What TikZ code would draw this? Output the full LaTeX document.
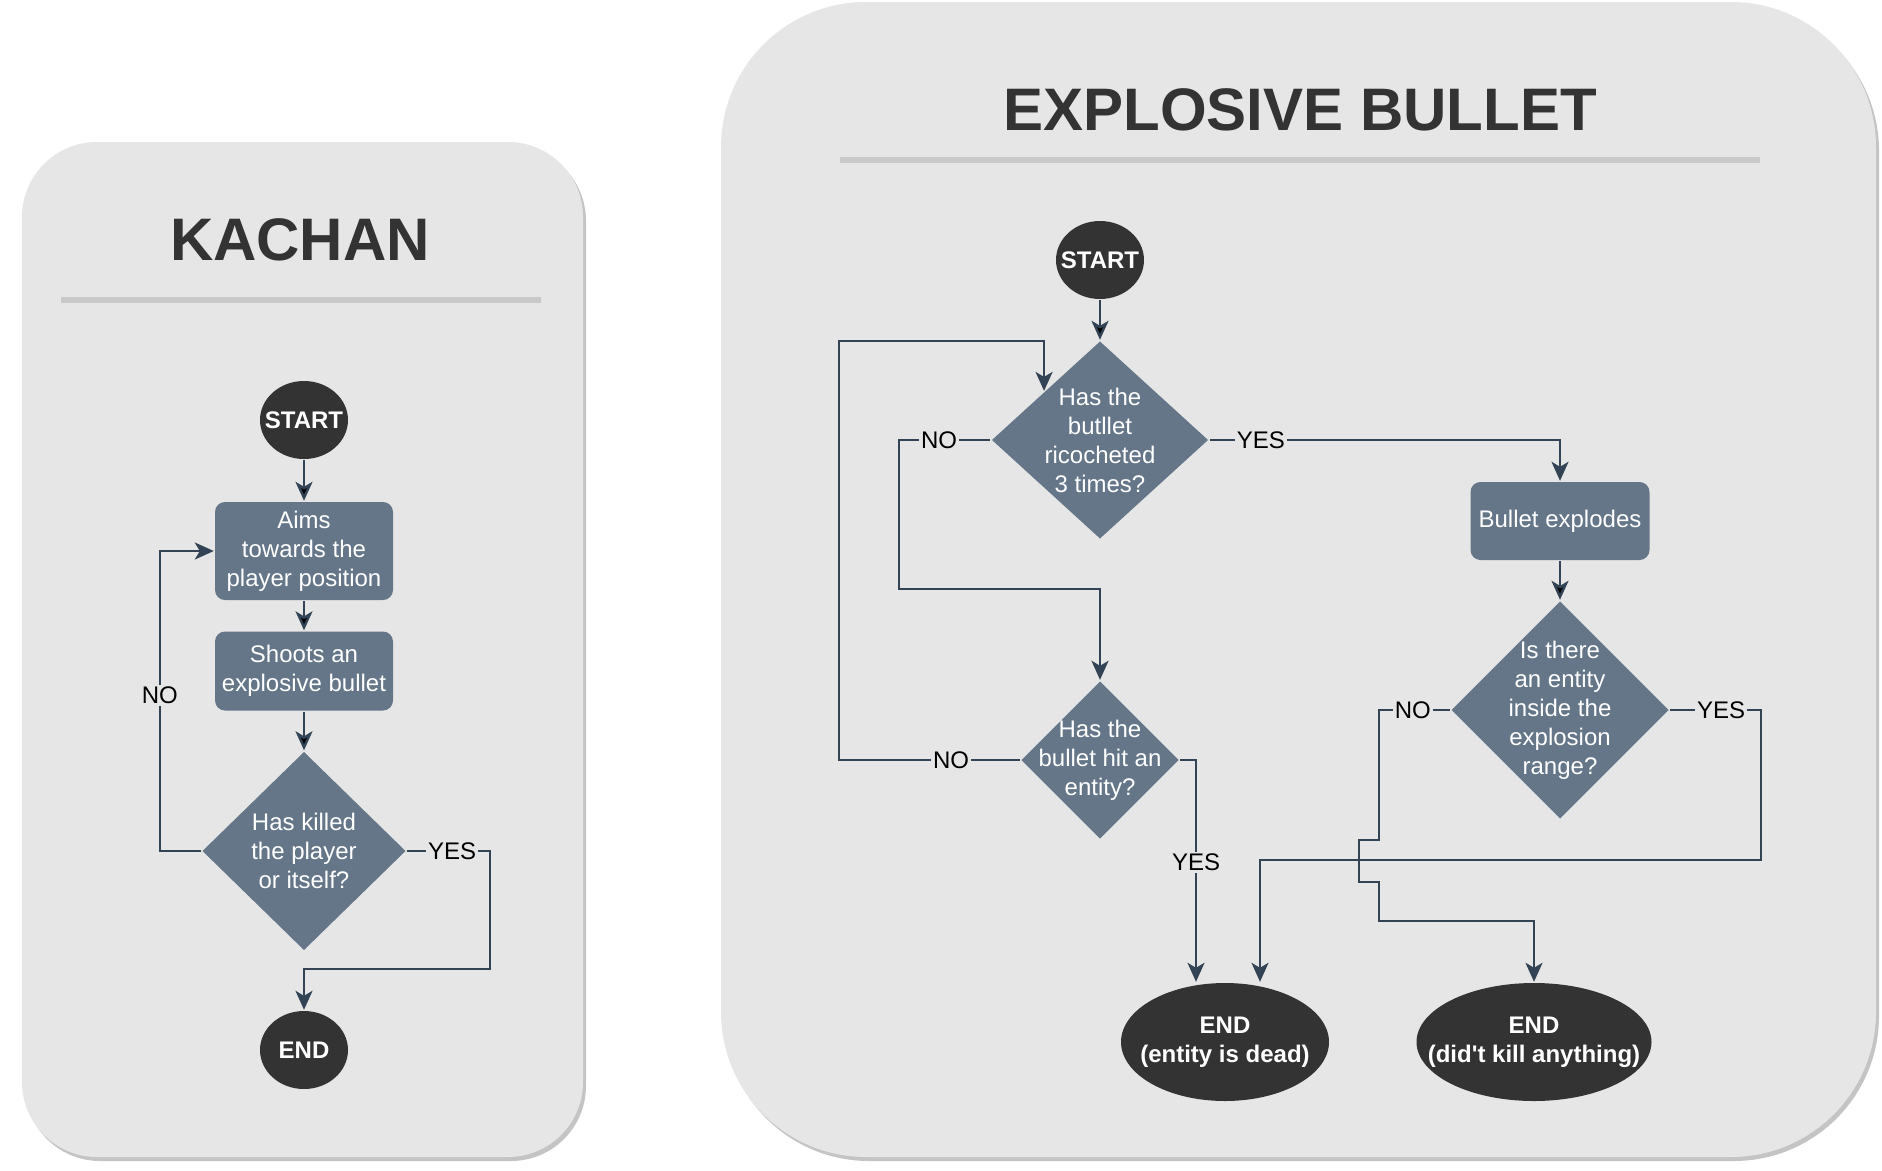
\documentclass[tikz,border=0pt]{standalone}
\usepackage{fontspec}
\setmainfont{Liberation Sans}
\usepackage{xcolor}
\usetikzlibrary{arrows.meta,calc,positioning,shapes.geometric}
\definecolor{panelbg}{HTML}{E6E6E6}
\definecolor{panelshade}{HTML}{C4C4C4}
\definecolor{rulegray}{HTML}{C9C9C9}
\definecolor{titlecol}{HTML}{333333}
\definecolor{slate}{HTML}{647687}
\definecolor{darkfill}{HTML}{333333}
\definecolor{linecol}{HTML}{314354}
\newcommand{\flowfont}{\fontsize{24}{29}\selectfont}

\begin{document}
\begin{tikzpicture}[x=1pt,y=-1pt,line width=2.4pt,
  flow/.style={draw=linecol,-{Stealth[length=19pt,width=17pt,inset=5pt]}},
  lbl/.style={fill=panelbg,inner sep=2pt,text=black,font=\flowfont},
  term/.style={ellipse,fill=darkfill,text=white,font=\flowfont\bfseries,inner sep=-30pt,align=center},
  proc/.style={rectangle,rounded corners=10pt,fill=slate,text=white,font=\flowfont,inner sep=4pt,align=center,minimum width=178pt},
  deci/.style={diamond,fill=slate,text=white,font=\flowfont,inner sep=-30pt,align=center},
  title/.style={font=\fontsize{60}{72}\selectfont\bfseries,text=titlecol}]
  \useasboundingbox (0,0) rectangle (1882,1170);

  % panels
  \fill[panelshade,rounded corners=75pt] (25,146) rectangle (586,1161);
  \fill[panelbg,rounded corners=75pt] (22,142) rectangle (583,1157);
  \fill[panelshade,rounded corners=145pt] (724,6) rectangle (1879,1161);
  \fill[panelbg,rounded corners=145pt] (721,2) rectangle (1876,1157);

  \node[title] (t1) at (300,240) {KACHAN};
  \node[title] (t2) at (1300,110) {EXPLOSIVE BULLET};
  \draw[rulegray,line width=6pt] (61,300) -- (541,300);
  \draw[rulegray,line width=6pt] (840,160) -- (1760,160);

  % kachan
  \node[term,minimum width=88pt,minimum height=78pt] (k1) at (304,420) {START};
  \node[proc,minimum height=98pt] (k2) [below of=k1,node distance=131pt] {Aims\\towards the\\player position};
  \node[proc,minimum height=79pt] (k3) [below of=k2,node distance=120pt] {Shoots an\\explosive bullet};
  \node[deci,minimum width=204pt,minimum height=199pt] (k4) [below of=k3,node distance=180pt] {Has killed\\the player\\or itself?};
  \node[term,minimum width=88pt,minimum height=78pt] (k5) [below of=k4,node distance=199pt] {END};

  \path[flow] (k1) edge (k2) (k2) edge (k3) (k3) edge (k4);
  \draw[flow] (k4.west) -- ++(-41,0) |- node[lbl,pos=0.26] {NO} (k2.west);
  \draw[flow] (k4.east) -- node[lbl,pos=0.54] {YES} ++(83,0) |- ($(k5.north)+(0,-41)$) -- (k5.north);

  % explosive bullet
  \node[term,minimum width=88pt,minimum height=78pt] (e1) at (1100,260) {START};
  \node[deci,minimum width=217pt,minimum height=198pt] (e2) [below of=e1,node distance=180pt] {Has the\\butllet\\ricocheted\\3 times?};
  \node[deci,minimum width=158pt,minimum height=158pt] (e3) [below of=e2,node distance=320pt] {Has the\\bullet hit an\\entity?};
  \node[proc,minimum width=179pt,minimum height=78pt] (e4) at (1560,521) {Bullet explodes};
  \node[deci,minimum width=218pt,minimum height=218pt] (e5) [below of=e4,node distance=189pt] {Is there\\an entity\\inside the\\explosion\\range?};
  \node[term,minimum width=208pt,minimum height=118pt] (e6) at (1225,1042) {END\\(entity is dead)};
  \node[term,minimum width=235pt,minimum height=118pt] (e7) [right of=e6,node distance=309pt] {END\\(did\textquotesingle t kill anything)};

  \coordinate (e2in) at ($(e2.west)!0.49!(e2.north)$);
  \path[flow] (e1) edge (e2) (e4) edge (e5);
  \draw[flow] (e3.west) -- node[lbl,pos=0.38] {NO} ++(-181,0) |- ($(e2in)+(0,-50)$) -- (e2in);
  \draw[flow] (e2.west) -- node[lbl,pos=0.56] {NO} ++(-91.5,0) |- ($(e3.north)+(0,-91)$) -- (e3.north);
  \draw[flow] (e2.east) -| node[lbl,pos=0.073] {YES} (e4.north);
  \draw[flow] (e3.east) -| node[lbl,pos=0.73] {YES} ($(e6.north)+(-29,0)$);
  \draw[flow] (e5.east) -- node[lbl,pos=0.56] {YES} ++(91,0) -- ++(0,150) -| ($(e6.north)+(35,0)$);
  \draw[flow] (e5.west) -- node[lbl,pos=0.52] {NO} ++(-71,0) -- ++(0,130) -- ++(-20,0) -- ++(0,42) -- ++(20,0) |- ($(e7.north)+(0,-61)$) -- (e7.north);
\end{tikzpicture}
\end{document}
